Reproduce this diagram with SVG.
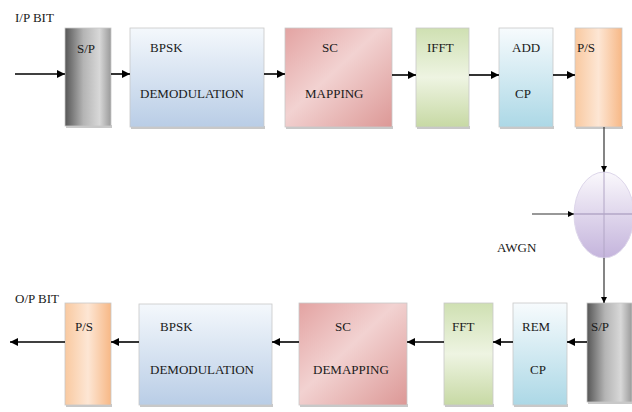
<svg xmlns="http://www.w3.org/2000/svg" width="632" height="412" viewBox="0 0 632 412">
<defs>
<linearGradient id="gGrey" x1="0" y1="0" x2="1" y2="0">
<stop offset="0" stop-color="#565656"/>
<stop offset="0.4" stop-color="#b4b4b4"/>
<stop offset="0.75" stop-color="#d8d8d8"/>
<stop offset="1" stop-color="#9a9a9a"/>
</linearGradient>
<linearGradient id="gBlue" x1="0" y1="0" x2="0" y2="1">
<stop offset="0" stop-color="#f4f8fc"/>
<stop offset="1" stop-color="#b9cde6"/>
</linearGradient>
<linearGradient id="gRed" x1="0" y1="0" x2="1" y2="1">
<stop offset="0" stop-color="#e3a3a2"/>
<stop offset="0.45" stop-color="#f2d2d1"/>
<stop offset="1" stop-color="#dc9896"/>
</linearGradient>
<linearGradient id="gGreen" x1="0" y1="0" x2="0" y2="1">
<stop offset="0" stop-color="#cfe0b2"/>
<stop offset="0.5" stop-color="#eef4e2"/>
<stop offset="1" stop-color="#c7d9a4"/>
</linearGradient>
<linearGradient id="gCyan" x1="0" y1="0" x2="0" y2="1">
<stop offset="0" stop-color="#f7fbfd"/>
<stop offset="1" stop-color="#acd8e6"/>
</linearGradient>
<linearGradient id="gOrange" x1="0" y1="0" x2="1" y2="0">
<stop offset="0" stop-color="#f9c9a0"/>
<stop offset="0.5" stop-color="#fde6d4"/>
<stop offset="1" stop-color="#f7b886"/>
</linearGradient>
<linearGradient id="gPurple" x1="0" y1="0" x2="0" y2="1">
<stop offset="0" stop-color="#faf8fc"/>
<stop offset="1" stop-color="#c4b4dc"/>
</linearGradient>
<marker id="ah" viewBox="0 0 10 10" refX="10" refY="5" markerWidth="5.5" markerHeight="5" orient="auto" markerUnits="strokeWidth">
<path d="M0,0 L10,5 L0,10 z" fill="#000"/>
</marker>
</defs>
<style>
.box{stroke:#c8c8c8;stroke-width:0.8}
.sh{fill:#9a9a9a;opacity:0.55}
.t{font-family:"Liberation Serif","Times New Roman",serif;font-size:13px;fill:#1a1a1a}
.c{stroke:#000;stroke-width:1.6;fill:none;marker-end:url(#ah)}
.c2{stroke:#333;stroke-width:1.2;fill:none;marker-end:url(#ah)}
</style>
<rect width="632" height="412" fill="#fff"/>

<text class="t" x="15" y="22">I/P BIT</text>
<text class="t" x="15" y="303">O/P BIT</text>
<text class="t" x="497" y="252">AWGN</text>

<g id="sp1"><rect class="sh" x="66" y="125" width="46" height="3"/><rect class="box" x="65" y="28" width="46" height="98" fill="url(#gGrey)"/><text class="t" x="77" y="53">S/P</text></g>
<g id="bpsk1"><rect class="sh" x="131" y="126" width="134" height="3"/><rect class="box" x="130" y="28" width="134" height="99" fill="url(#gBlue)"/><text class="t" x="150" y="52">BPSK</text><text class="t" x="140" y="98">DEMODULATION</text></g>
<g id="sc1"><rect class="sh" x="286" y="126" width="107" height="3"/><rect class="box" x="285" y="28" width="107" height="99" fill="url(#gRed)"/><text class="t" x="322" y="52">SC</text><text class="t" x="305" y="98">MAPPING</text></g>
<g id="ifft"><rect class="sh" x="417" y="126" width="53" height="3"/><rect class="box" x="416" y="28" width="53" height="99" fill="url(#gGreen)"/><text class="t" x="427" y="52">IFFT</text></g>
<g id="addcp"><rect class="sh" x="500" y="126" width="54" height="3"/><rect class="box" x="499" y="28" width="54" height="99" fill="url(#gCyan)"/><text class="t" x="512" y="52">ADD</text><text class="t" x="515" y="98">CP</text></g>
<g id="ps1"><rect class="sh" x="576" y="126" width="47" height="3"/><rect class="box" x="575" y="28" width="47" height="99" fill="url(#gOrange)"/><text class="t" x="577" y="52">P/S</text></g>

<g id="channel"><ellipse cx="604" cy="215" rx="30" ry="43" fill="url(#gPurple)" stroke="#ddd6ea" stroke-width="1"/><line x1="574" y1="214" x2="634" y2="214" stroke="#9d8fb4" stroke-width="1"/><line x1="604" y1="172" x2="604" y2="258" stroke="#b2a6c6" stroke-width="1"/></g>

<g id="ps2"><rect class="sh" x="66" y="404" width="46" height="3"/><rect class="box" x="65" y="303" width="46" height="102" fill="url(#gOrange)"/><text class="t" x="75" y="331">P/S</text></g>
<g id="bpsk2"><rect class="sh" x="140" y="404" width="133" height="3"/><rect class="box" x="139" y="304" width="133" height="101" fill="url(#gBlue)"/><text class="t" x="160" y="331">BPSK</text><text class="t" x="150" y="374">DEMODULATION</text></g>
<g id="sc2"><rect class="sh" x="300" y="404" width="108" height="3"/><rect class="box" x="299" y="303" width="108" height="102" fill="url(#gRed)"/><text class="t" x="335" y="331">SC</text><text class="t" x="313" y="374">DEMAPPING</text></g>
<g id="fft"><rect class="sh" x="445" y="404" width="49" height="3"/><rect class="box" x="444" y="303" width="49" height="102" fill="url(#gGreen)"/><text class="t" x="452" y="331">FFT</text></g>
<g id="remcp"><rect class="sh" x="514" y="404" width="54" height="3"/><rect class="box" x="513" y="303" width="54" height="102" fill="url(#gCyan)"/><text class="t" x="522" y="331">REM</text><text class="t" x="530" y="374">CP</text></g>
<g id="sp2"><rect class="sh" x="588" y="401" width="45" height="3"/><rect class="box" x="587" y="303" width="45" height="99" fill="url(#gGrey)"/><text class="t" x="591" y="331">S/P</text></g>

<g id="connectors">
<line class="c" x1="15" y1="74" x2="65" y2="74"/>
<line class="c" x1="111" y1="74" x2="130" y2="74"/>
<line class="c" x1="264" y1="74" x2="285" y2="74"/>
<line class="c" x1="392" y1="75" x2="416" y2="75"/>
<line class="c" x1="469" y1="75" x2="499" y2="75"/>
<line class="c" x1="553" y1="75" x2="575" y2="75"/>
<line class="c2" x1="604" y1="127" x2="604" y2="172"/>
<line class="c2" x1="532" y1="214" x2="574" y2="214"/>
<line class="c2" x1="604" y1="258" x2="604" y2="303"/>
<line class="c" x1="587" y1="342" x2="567" y2="342"/>
<line class="c" x1="513" y1="342" x2="493" y2="342"/>
<line class="c" x1="444" y1="342" x2="407" y2="342"/>
<line class="c" x1="299" y1="342" x2="272" y2="342"/>
<line class="c" x1="139" y1="342" x2="111" y2="342"/>
<line class="c" x1="65" y1="342" x2="10" y2="342"/>
</g>
</svg>
